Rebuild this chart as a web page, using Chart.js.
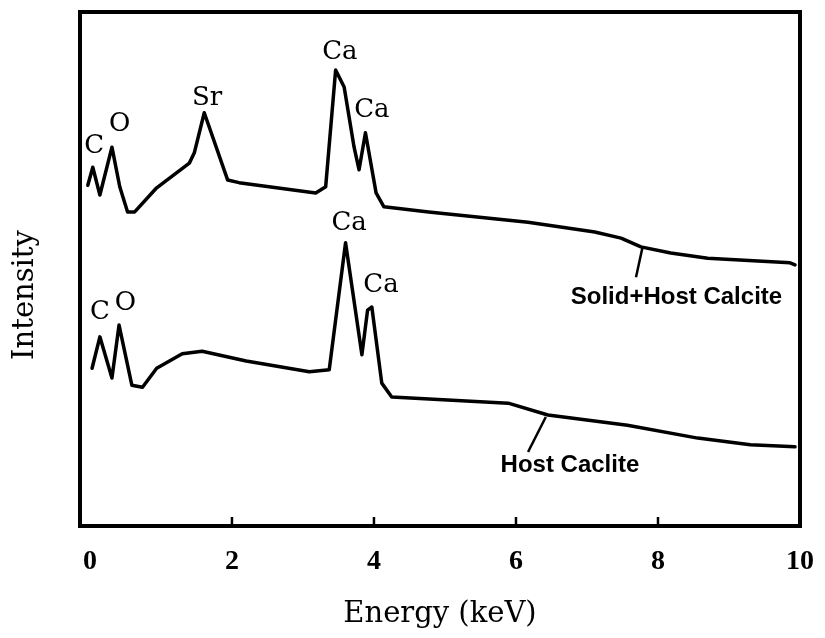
<!DOCTYPE html>
<html lang="en">
<head>
  <meta charset="UTF-8" />
  <title>EDS spectra</title>
  <script src="https://cdn.jsdelivr.net/npm/chart.js"></script>
  <style>
    html, body { margin: 0; padding: 0; background: #fff; }
    canvas { display: block; }
  </style>
</head>
<body>
  <canvas id="spectrum" width="825" height="638"></canvas>

  <script>
    // energy (keV) and relative intensity for each spectrum
    const solidEnergy = [-0.03, 0.04, 0.14, 0.31, 0.42, 0.53, 0.63, 0.94, 1.40, 1.47, 1.61, 1.94, 2.10, 3.18, 3.32, 3.46, 3.58, 3.72, 3.79, 3.88, 4.03, 4.14, 4.77, 6.17, 7.11, 7.48, 7.76, 8.18, 8.70, 9.86, 9.93];
    const solidCounts = [66.3, 69.8, 64.4, 73.7, 66.0, 61.1, 61.1, 65.8, 70.6, 72.6, 80.4, 67.3, 66.8, 64.8, 66.0, 88.7, 85.4, 73.7, 69.3, 76.5, 64.8, 62.1, 61.1, 59.1, 57.2, 56.0, 54.3, 53.1, 52.1, 51.2, 50.8];

    const hostEnergy = [0.03, 0.14, 0.31, 0.41, 0.59, 0.74, 0.94, 1.30, 1.58, 2.20, 3.09, 3.37, 3.60, 3.83, 3.91, 3.97, 4.11, 4.25, 5.89, 6.45, 7.57, 8.56, 9.30, 9.93];
    const hostCounts = [30.7, 36.8, 28.8, 39.1, 27.4, 27.0, 30.7, 33.5, 34.0, 32.1, 30.0, 30.4, 55.1, 33.3, 42.0, 42.6, 27.8, 25.1, 23.9, 21.6, 19.6, 17.1, 15.8, 15.4];

    const tickValues = [0, 2, 4, 6, 8, 10];

    // element labels over the peaks: [text, keV, intensity]
    const peakLabels = [
      ['C', 0.06, 73.9], ['O', 0.42, 78.2], ['Sr', 1.65, 83.3], ['Ca', 3.52, 92.2], ['Ca', 3.97, 80.9],
      ['C', 0.14, 41.6], ['O', 0.50, 43.4], ['Ca', 3.65, 58.9], ['Ca', 4.10, 46.9]
    ];

    // curve names with their leader lines: [text, keV, intensity, from, to]
    const curveLabels = [
      ['Solid+Host Calcite', 8.26, 44.4, [7.78, 54.1], [7.69, 48.4]],
      ['Host Caclite', 6.76, 11.7, [6.42, 21.2], [6.17, 14.4]]
    ];

    const toPoints = (xs, ys) => xs.map((x, i) => ({ x: x, y: ys[i] }));

    const decorations = {
      id: 'decorations',
      afterDatasetsDraw(chart) {
        const { ctx, chartArea: a, scales: { x, y } } = chart;
        ctx.save();

        // frame
        ctx.strokeStyle = '#000';
        ctx.lineWidth = 4;
        ctx.strokeRect(a.left, a.top, a.right - a.left, a.bottom - a.top);

        // inward tick marks
        ctx.lineWidth = 2.5;
        tickValues.slice(1, -1).forEach(v => {
          const px = x.getPixelForValue(v);
          ctx.beginPath();
          ctx.moveTo(px, a.bottom);
          ctx.lineTo(px, a.bottom - 9);
          ctx.stroke();
        });

        ctx.fillStyle = '#000';
        ctx.textAlign = 'center';
        ctx.textBaseline = 'middle';

        ctx.font = '26px "DejaVu Serif"';
        peakLabels.forEach(([t, kev, v]) => {
          ctx.fillText(t, x.getPixelForValue(kev), y.getPixelForValue(v));
        });

        ctx.font = 'bold 24px "Liberation Sans"';
        ctx.lineWidth = 2.5;
        curveLabels.forEach(([t, kev, v, from, to]) => {
          ctx.beginPath();
          ctx.moveTo(x.getPixelForValue(from[0]), y.getPixelForValue(from[1]));
          ctx.lineTo(x.getPixelForValue(to[0]), y.getPixelForValue(to[1]));
          ctx.stroke();
          ctx.fillText(t, x.getPixelForValue(kev), y.getPixelForValue(v));
        });

        // y axis title
        ctx.font = '29px "DejaVu Serif"';
        ctx.translate(25, 295);
        ctx.rotate(-Math.PI / 2);
        ctx.fillText('Intensity', 0, 0);

        ctx.restore();
      }
    };

    const lineStyle = {
      borderColor: '#000',
      borderWidth: 3.5,
      pointRadius: 0,
      tension: 0,
      fill: false,
      borderJoinStyle: 'round',
      borderCapStyle: 'round'
    };

    new Chart(document.getElementById('spectrum'), {
      type: 'line',
      data: {
        datasets: [
          Object.assign({ label: 'Solid+Host Calcite', data: toPoints(solidEnergy, solidCounts) }, lineStyle),
          Object.assign({ label: 'Host Caclite', data: toPoints(hostEnergy, hostCounts) }, lineStyle)
        ]
      },
      options: {
        responsive: false,
        animation: false,
        layout: { padding: { top: 12, right: 22, left: 0, bottom: 0 } },
        plugins: {
          legend: { display: false },
          tooltip: { enabled: false }
        },
        scales: {
          x: {
            type: 'linear',
            min: -0.14,
            max: 10,
            afterBuildTicks: scale => { scale.ticks = tickValues.map(v => ({ value: v })); },
            afterFit: scale => { scale.height = 112; },
            grid: { display: false },
            border: { display: false },
            ticks: {
              color: '#000',
              padding: 11,
              maxRotation: 0,
              font: { family: '"Liberation Serif"', size: 28, weight: 'bold' }
            },
            title: {
              display: true,
              text: 'Energy (keV)',
              color: '#000',
              padding: { top: 4, bottom: 6 },
              font: { family: '"DejaVu Serif"', size: 29 }
            }
          },
          y: {
            min: 0,
            max: 100,
            afterFit: scale => { scale.width = 80; },
            grid: { display: false },
            border: { display: false },
            ticks: { display: false }
          }
        }
      },
      plugins: [decorations]
    });
  </script>
</body>
</html>
